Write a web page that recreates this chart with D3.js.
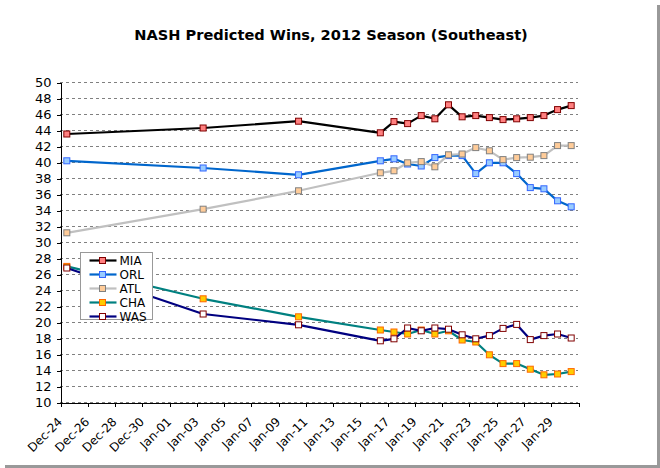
<!DOCTYPE html>
<html>
<head>
<meta charset="utf-8">
<script src="https://cdn.jsdelivr.net/npm/d3@7/dist/d3.min.js"></script>
<style>
  html, body { margin: 0; padding: 0; background: #fff; }
  svg { display: block; }
  text { font-family: "DejaVu Sans", Verdana, sans-serif; }
</style>
</head>
<body>
<svg id="chart" width="660" height="468"></svg>
<script>
// ---------- data ----------
const dates = [
  "2011-12-24", "2012-01-03", "2012-01-10",
  "2012-01-16", "2012-01-17", "2012-01-18", "2012-01-19", "2012-01-20",
  "2012-01-21", "2012-01-22", "2012-01-23", "2012-01-24", "2012-01-25",
  "2012-01-26", "2012-01-27", "2012-01-28", "2012-01-29", "2012-01-30"
];
const MIA = [43.5, 44.25, 45.1, 43.65, 45.05, 44.8, 45.8, 45.4, 47.15, 45.65, 45.8, 45.55, 45.3, 45.4, 45.55, 45.8, 46.55, 47.05];
const ORL = [40.15, 39.25, 38.4, 40.15, 40.4, 39.75, 39.5, 40.55, 40.8, 40.8, 38.55, 39.9, 39.9, 38.55, 36.8, 36.65, 35.15, 34.4];
const ATL = [31.15, 34.1, 36.4, 38.65, 38.9, 39.9, 40.05, 39.4, 40.9, 41.0, 41.8, 41.4, 40.3, 40.55, 40.6, 40.8, 42.05, 42.05];
const CHA = [26.95, 22.9, 20.65, 19.0, 18.75, 18.5, 19.0, 18.5, 18.9, 17.75, 17.5, 15.9, 14.8, 14.8, 14.1, 13.4, 13.5, 13.8];
const WAS = [26.75, 21.0, 19.65, 17.65, 17.9, 19.25, 18.9, 19.25, 19.1, 18.4, 17.9, 18.3, 19.2, 19.7, 17.8, 18.3, 18.5, 18.0];

const seriesNames = ["MIA", "ORL", "ATL", "CHA", "WAS"];
const seriesValues = [MIA, ORL, ATL, CHA, WAS];

const yTicks = [10, 12, 14, 16, 18, 20, 22, 24, 26, 28, 30, 32, 34, 36, 38, 40, 42, 44, 46, 48, 50];
const xTickLabels = ["Dec-24", "Dec-26", "Dec-28", "Dec-30", "Jan-01", "Jan-03", "Jan-05", "Jan-07",
  "Jan-09", "Jan-11", "Jan-13", "Jan-15", "Jan-17", "Jan-19", "Jan-21", "Jan-23", "Jan-25",
  "Jan-27", "Jan-29", ""];
const axisStart = "2011-12-24", axisEnd = "2012-01-31";
const title = "NASH Predicted Wins, 2012 Season (Southeast)";

// ---------- styles ----------
const styles = {
  MIA: { line: "#000000", fill: "#FF8080", stroke: "#800000" },
  ORL: { line: "#0066CC", fill: "#99CCFF", stroke: "#3366FF" },
  ATL: { line: "#C0C0C0", fill: "#FFCC99", stroke: "#808080" },
  CHA: { line: "#008080", fill: "#FFCC00", stroke: "#FF6600" },
  WAS: { line: "#000080", fill: "#FFFFFF", stroke: "#800000" }
};

const parse = d3.timeParse("%Y-%m-%d");
const svg = d3.select("#chart");

// background + shadow
svg.append("rect").attr("x", 5).attr("y", 5).attr("width", 655).attr("height", 463).attr("fill", "#999999");
svg.append("rect").attr("x", 0).attr("y", 0).attr("width", 657).attr("height", 465).attr("fill", "#ffffff");

const plot = { left: 60, right: 578, top: 82, bottom: 402 };

const x = d3.scaleTime()
  .domain([parse(axisStart), parse(axisEnd)])
  .range([plot.left, plot.right]);
const y = d3.scaleLinear()
  .domain([d3.min(yTicks), d3.max(yTicks)])
  .range([plot.bottom, plot.top]);

// points sit in the middle of each day's slot
const xPos = s => x(d3.timeHour.offset(parse(s), 12));

// title
svg.append("text")
  .attr("x", 331).attr("y", 39.5)
  .attr("text-anchor", "middle")
  .attr("font-weight", "bold")
  .attr("font-size", "14.6px")
  .attr("fill", "#000")
  .text(title);

// gridlines
svg.append("g")
  .selectAll("line")
  .data(yTicks)
  .join("line")
  .attr("x1", plot.left).attr("x2", plot.right)
  .attr("y1", d => Math.round(y(d)) + 0.5).attr("y2", d => Math.round(y(d)) + 0.5)
  .attr("stroke", "#808080")
  .attr("stroke-dasharray", "3,3")
  .attr("stroke-width", 1);

// y axis
const yAxis = svg.append("g")
  .attr("transform", `translate(${plot.left + 0.5},0.5)`)
  .call(d3.axisLeft(y).tickValues(yTicks).tickSize(4).tickSizeOuter(0).tickPadding(5));
yAxis.selectAll("text").attr("font-size", "13px").attr("font-family", "DejaVu Sans").attr("fill", "#000");

// x axis
const tickDates = d3.timeDay.range(parse(axisStart), d3.timeDay.offset(parse(axisEnd), 1), 2);
const xAxis = svg.append("g")
  .attr("transform", `translate(0.5,${plot.bottom + 0.5})`)
  .call(d3.axisBottom(x).tickValues(tickDates).tickSize(4).tickSizeOuter(0)
    .tickFormat((d, i) => xTickLabels[i] || ""));
xAxis.selectAll("text")
  .attr("font-size", "12px")
  .attr("font-family", "DejaVu Sans")
  .attr("fill", "#000")
  .attr("text-anchor", "end")
  .attr("y", 0).attr("dy", 0)
  .attr("transform", "translate(2,20) rotate(-45)");

svg.selectAll(".domain, .tick line").attr("stroke", "#000").attr("shape-rendering", "crispEdges");

// series
const line = d3.line()
  .x((d, i) => xPos(dates[i]))
  .y(d => y(d));

const ms = 6;
seriesNames.forEach((name, k) => {
  const st = styles[name];
  const vals = seriesValues[k];
  const g = svg.append("g");
  g.append("path")
    .datum(vals)
    .attr("d", line)
    .attr("fill", "none")
    .attr("stroke", st.line)
    .attr("stroke-width", 2.2)
    .attr("stroke-linejoin", "round");
  g.selectAll("rect")
    .data(vals)
    .join("rect")
    .attr("x", (d, i) => xPos(dates[i]) - ms / 2)
    .attr("y", d => y(d) - ms / 2)
    .attr("width", ms).attr("height", ms)
    .attr("fill", st.fill)
    .attr("stroke", st.stroke)
    .attr("stroke-width", 1);
});

// legend
const lg = svg.append("g").attr("transform", "translate(80.5,252.5)");
lg.append("rect").attr("width", 72).attr("height", 67)
  .attr("fill", "#fff").attr("stroke", "#999999").attr("stroke-width", 1);
seriesNames.forEach((name, i) => {
  const st = styles[name];
  const cy = 8 + i * 14;
  lg.append("line").attr("x1", 9).attr("x2", 36).attr("y1", cy).attr("y2", cy)
    .attr("stroke", st.line).attr("stroke-width", 2.2);
  lg.append("rect").attr("x", 22 - ms / 2).attr("y", cy - ms / 2).attr("width", ms).attr("height", ms)
    .attr("fill", st.fill).attr("stroke", st.stroke).attr("stroke-width", 1);
  lg.append("text").attr("x", 39).attr("y", cy + 4.5)
    .attr("font-size", "12px").attr("fill", "#000").text(name);
});
</script>
</body>
</html>
